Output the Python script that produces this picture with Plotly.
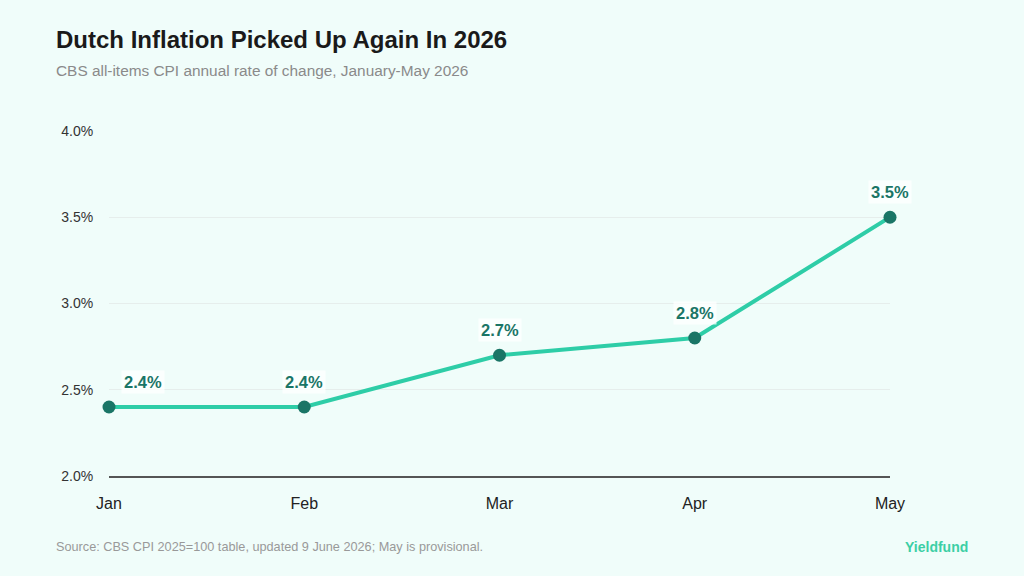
import plotly.graph_objects as go

months = ["Jan", "Feb", "Mar", "Apr", "May"]
cpi_rate = [2.4, 2.4, 2.7, 2.8, 3.5]
y_ticks = [2.0, 2.5, 3.0, 3.5, 4.0]

W, H = 1024, 576
L, R, T, B = 109, 134, 131, 100
BG = "#F0FDFA"
LINE = "#2ECDA7"
DOT = "#1A7566"
FONT = "Liberation Sans, Arial, Helvetica, sans-serif"


def px_x(p):
    return (p - L) / (W - L - R)


def px_y(p):
    return 1 - (p - T) / (H - T - B)


fig = go.Figure()
fig.add_trace(go.Scatter(
    x=months,
    y=cpi_rate,
    mode="lines+markers",
    line=dict(color=LINE, width=4),
    marker=dict(color=DOT, size=13),
    cliponaxis=False,
    hoverinfo="skip",
    showlegend=False,
))

# value labels
for i, (m, v) in enumerate(zip(months, cpi_rate)):
    fig.add_annotation(
        x=m, y=v, text=f"<b>{v:.1f}%</b>",
        showarrow=False,
        xanchor="left" if i == 0 else "center",
        yanchor="bottom",
        xshift=12 if i == 0 else 0,
        yshift=13,
        font=dict(family=FONT, size=16.5, color=DOT),
        bgcolor="rgba(255,255,255,0.75)",
        borderpad=2,
    )

# header / footer
fig.add_annotation(
    xref="paper", yref="paper", x=px_x(54), y=px_y(40),
    xanchor="left", yanchor="middle", showarrow=False,
    text="<b>Dutch Inflation Picked Up Again In 2026</b>",
    font=dict(family=FONT, size=24, color="#1a1a1a"),
)
fig.add_annotation(
    xref="paper", yref="paper", x=px_x(54), y=px_y(70),
    xanchor="left", yanchor="middle", showarrow=False,
    text="CBS all-items CPI annual rate of change, January-May 2026",
    font=dict(family=FONT, size=15.4, color="#8a8a8a"),
)
fig.add_annotation(
    xref="paper", yref="paper", x=px_x(54), y=px_y(547),
    xanchor="left", yanchor="middle", showarrow=False,
    text="Source: CBS CPI 2025=100 table, updated 9 June 2026; May is provisional.",
    font=dict(family=FONT, size=12.7, color="#999999"),
)
fig.add_annotation(
    xref="paper", yref="paper", x=px_x(970), y=px_y(547),
    xanchor="right", yanchor="middle", showarrow=False,
    text="<b>Yieldfund</b>",
    font=dict(family=FONT, size=14, color="#3CCFA5"),
)

fig.update_xaxes(
    showgrid=False,
    range=[0, len(months) - 1],
    showline=True, linewidth=2, linecolor="#555555",
    ticks="outside", ticklen=12, tickcolor="rgba(0,0,0,0)",
    tickfont=dict(family=FONT, size=16, color="#222222"),
    zeroline=False,
)
fig.update_yaxes(
    range=[2.0, 4.0],
    tickvals=y_ticks,
    ticktext=[f"{t:.1f}%" for t in y_ticks],
    showgrid=True, gridcolor="#E6EEEC", gridwidth=1,
    zeroline=False, showline=False,
    ticks="outside", ticklen=12, tickcolor="rgba(0,0,0,0)",
    tickfont=dict(family=FONT, size=14, color="#333333"),
)

fig.update_layout(
    width=W, height=H,
    margin=dict(l=L, r=R, t=T, b=B, autoexpand=False),
    plot_bgcolor=BG,
    paper_bgcolor=BG,
    showlegend=False,
)

fig.write_html(
    "out.html",
    config={"displayModeBar": False},
    post_script="document.body.style.margin='0';",
)
